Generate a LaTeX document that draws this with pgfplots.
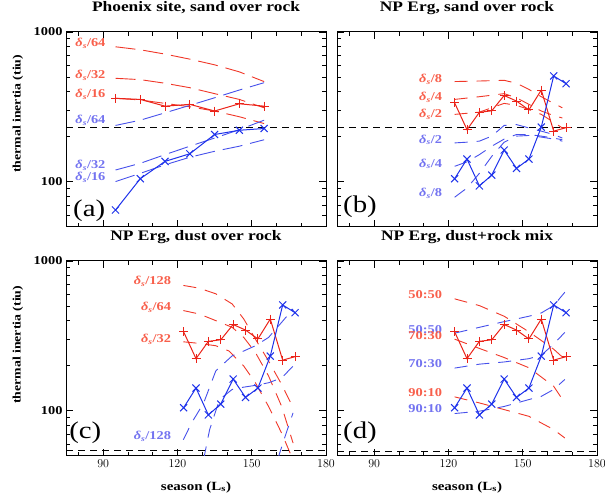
\documentclass[border=0pt]{standalone}
\usepackage{fontspec}
\setmainfont{Liberation Serif}[FakeStretch=1.2]
\usepackage{pgfplots}
\pgfplotsset{compat=1.18}
\definecolor{dred}{RGB}{235,35,25}
\definecolor{dblue}{RGB}{30,50,235}
\definecolor{mred}{RGB}{240,55,40}
\definecolor{mblue}{RGB}{70,80,235}
\definecolor{lred}{RGB}{248,95,75}
\definecolor{lblue}{RGB}{115,115,240}
\newcommand{\ds}[1]{{\itshape δ}\textsubscript{\itshape s}/#1}
\tikzset{
 lab/.style={font=\bfseries\fontsize{12}{14}\selectfont, anchor=east, inner sep=0pt},
 pl/.style={font=\fontsize{24}{26}\selectfont, anchor=base west, inner sep=0pt},
 mr/.style={mred, line width=0.9pt, dash pattern=on 13pt off 9pt},
 mb/.style={mblue, line width=0.9pt, dash pattern=on 13pt off 9pt},
 mra/.style={mred, line width=0.9pt, dash pattern=on 20pt off 8pt},
 mba/.style={mblue, line width=0.9pt, dash pattern=on 20pt off 8pt},
 hl/.style={black, line width=0.9pt, dash pattern=on 7pt off 5pt},
 dr/.style={dred, line width=1pt, mark=+, mark size=4.5pt, mark options={solid, line width=1pt}},
 db/.style={dblue, line width=1pt, mark=x, mark size=5pt, mark options={solid, line width=1pt}},
}
\pgfplotsset{
 panel/.style={
  width=260pt, height=195pt, scale only axis,
  xmin=75, xmax=180, ymin=50, ymax=1000,
  xtick={90,120,150,180}, minor xtick={80,100,110,130,140,160,170},
  ytick={100,1000},
  minor ytick={60,70,80,90,200,300,400,500,600,700,800,900},
  tick align=inside, major tick length=7pt, minor tick length=4pt,
  axis line style={line width=1pt},
  every tick/.append style={black, line width=0.8pt},
  ticklabel style={font=\bfseries\fontsize{12}{14}\selectfont},
  title style={font=\bfseries\fontsize{14.5}{16}\selectfont, at={(0.5,1)}, anchor=base, yshift=14pt},
  xlabel style={font=\bfseries\fontsize{12.5}{14}\selectfont, at={(0.5,0)}, anchor=center, yshift=-31pt},
  ylabel style={font=\bfseries\fontsize{11.5}{13}\selectfont, anchor=center},
 },
}
\begin{document}
\begin{tikzpicture}
\useasboundingbox (0pt,0pt) rectangle (605pt,498pt);
% ---------- (a)
\begin{axis}[ymode=log, panel, at={(66pt,271pt)}, anchor=south west,
  yticklabels={100,1000},
  title={Phoenix site, sand over rock}, xticklabels={},
  ylabel={thermal inertia (tiu)},
  ylabel style={at={(-0.185,0.58)}}]
\addplot[mra] coordinates {(95,797) (105,761) (115,712) (125,659) (135,604) (145,542) (155,467)};
\addplot[mra] coordinates {(95,491) (105,481) (115,455) (125,425) (135,388) (145,355) (155,312)};
\addplot[mra] coordinates {(95,361) (105,352) (115,334) (125,317) (135,297) (145,272) (155,245)};
\addplot[mba] coordinates {(95,238) (105,258) (115,289) (125,324) (135,364) (145,410) (155,459)};
\addplot[mba] coordinates {(95,120) (105,133) (115,152) (125,173) (135,196) (145,223) (155,258)};
\addplot[mba] coordinates {(95,100.5) (105,114) (115,130) (125,146) (135,160) (145,173) (155,191)};
\addplot[hl] coordinates {(75,229) (180,229)};
\addplot[dr] coordinates {(95,361) (105,355) (115,320) (125,329) (135,297) (145,332) (155,320)};
\addplot[db] coordinates {(95,64.9) (105,105) (115,137) (125,154) (135,207) (145,221) (155,227)};
\node[lab, lred] at (axis cs:91,839) {\ds{64}};
\node[lab, lred] at (axis cs:91,515) {\ds{32}};
\node[lab, lred] at (axis cs:91,384) {\ds{16}};
\node[lab, lblue] at (axis cs:91,258) {\ds{64}};
\node[lab, lblue] at (axis cs:91,129) {\ds{32}};
\node[lab, lblue] at (axis cs:91,107) {\ds{16}};
\node[pl] at (rel axis cs:0.027,0.052) {(a)};
\end{axis}
% ---------- (b)
\begin{axis}[ymode=log, panel, at={(337pt,271pt)}, anchor=south west,
  title={NP Erg, sand over rock}, xticklabels={}, yticklabels={}]
\addplot[mr] coordinates {(122.5,467) (132.5,471) (142.5,476) (147.5,455) (152.5,414) (157.5,370) (162.5,334) (166,312)};
\addplot[mr] coordinates {(122.5,355) (132.5,370) (142.5,388) (147.5,364) (152.5,329) (157.5,297) (162.5,277) (166,267)};
\addplot[mr] coordinates {(122.5,282) (132.5,292) (142.5,334) (147.5,324) (152.5,304) (157.5,282) (162.5,250) (166,229)};
\addplot[mb] coordinates {(122.5,182) (127.5,184) (132.5,187) (137.5,202) (142.5,238) (147.5,241) (152.5,229) (157.5,218) (162.5,207) (166,196)};
\addplot[mb] coordinates {(122.5,127) (127.5,136) (132.5,152) (137.5,173) (142.5,193) (147.5,207) (152.5,207) (157.5,202) (162.5,196) (166,191)};
\addplot[mb] coordinates {(122.5,79) (127.5,91) (132.5,114) (137.5,148) (142.5,184) (147.5,202) (152.5,204) (157.5,199) (162.5,193) (166,187)};
\addplot[hl] coordinates {(75,229) (180,229)};
\addplot[dr] coordinates {(122.5,337) (127.5,223) (132.5,291) (137.5,298) (142.5,377) (147.5,346) (152.5,302) (157.5,410) (162.5,218) (167.5,230)};
\addplot[db] coordinates {(122.5,105) (127.5,142) (132.5,94) (137.5,111) (142.5,163) (147.5,123) (152.5,142) (157.5,232) (162.5,509) (167.5,452)};
\node[lab, lred] at (axis cs:117.5,484) {\ds{8}};
\node[lab, lred] at (axis cs:117.5,368) {\ds{4}};
\node[lab, lred] at (axis cs:117.5,282) {\ds{2}};
\node[lab, lblue] at (axis cs:117.5,191) {\ds{2}};
\node[lab, lblue] at (axis cs:117.5,132) {\ds{4}};
\node[lab, lblue] at (axis cs:117.5,84) {\ds{8}};
\node[pl] at (rel axis cs:0.023,0.072) {(b)};
\end{axis}
% ---------- (c)
\begin{axis}[ymode=log, panel, at={(66pt,42pt)}, anchor=south west,
  yticklabels={100,1000},
  title={NP Erg, dust over rock},
  xlabel={season (L\textsubscript{s})},
  ylabel={thermal inertia (tiu)},
  ylabel style={at={(-0.185,0.57)}}]
\addplot[mr] coordinates {(122.4,687) (128.8,659) (135.5,604) (142.1,517) (146.8,410) (151.5,301) (156.8,215) (162.1,150) (166.7,105)};
\addplot[mr] coordinates {(122.4,467) (128.8,443) (135.5,400) (142.1,361) (146.8,309) (151.5,245) (156.8,171) (162.1,107) (166.7,61)};
\addplot[mr] coordinates {(122.4,289) (128.8,282) (135.5,272) (140.8,251) (146.8,199) (151.5,154) (156.8,107) (162.1,71) (166.7,47)};
\addplot[mb] coordinates {(122.4,64.2) (125.7,83) (130.6,113) (135.5,185) (142.1,233) (146.8,251) (151.5,272) (156.8,309) (162.1,390) (166.7,479)};
\addplot[mb] coordinates {(130.6,47.6) (133,75) (137,119) (142.1,139) (146.8,144) (151.5,148) (156.8,154) (162.1,166) (166.7,199)};
\addplot[mb] coordinates {(160.5,47.6) (163,64) (166.7,97)};
\addplot[hl] coordinates {(75,54.5) (180,54.5)};
\addplot[dr] coordinates {(122.5,337) (127.5,223) (132.5,291) (137.5,298) (142.5,377) (147.5,346) (152.5,302) (157.5,410) (162.5,218) (167.5,230)};
\addplot[db] coordinates {(122.5,105) (127.5,142) (132.5,94) (137.5,111) (142.5,163) (147.5,123) (152.5,142) (157.5,232) (162.5,509) (167.5,452)};
\node[lab, lred] at (axis cs:117.5,730) {\ds{128}};
\node[lab, lred] at (axis cs:117.5,491) {\ds{64}};
\node[lab, lred] at (axis cs:117.5,301) {\ds{32}};
\node[lab, lblue] at (axis cs:117.5,68) {\ds{128}};
\node[pl] at (rel axis cs:0.012,0.092) {(c)};
\end{axis}
% ---------- (d)
\begin{axis}[ymode=log, panel, at={(337pt,42pt)}, anchor=south west,
  title={NP Erg, dust+rock mix},
  xlabel={season (L\textsubscript{s})}, yticklabels={}]
\addplot[mr] coordinates {(122.5,559) (132.5,504) (142.5,428) (152.5,337) (162.5,258) (167,221)};
\addplot[mr] coordinates {(122.5,301) (132.5,261) (142.5,227) (152.5,194) (162.5,146) (167,113)};
\addplot[mr] coordinates {(122.5,124) (132.5,113) (142.5,102) (152.5,92) (162.5,75) (167,66)};
\addplot[mb] coordinates {(122.5,330) (132.5,361) (142.5,394) (152.5,428) (157.5,450) (162.5,504) (167,619)};
\addplot[mb] coordinates {(122.5,193) (132.5,205) (142.5,212) (152.5,223) (157.5,235) (162.5,279) (167,334)};
\addplot[mb] coordinates {(122.5,96) (132.5,99.5) (142.5,107) (152.5,119) (157.5,125) (162.5,139) (167,162)};
\addplot[hl] coordinates {(75,54) (180,54)};
\addplot[dr] coordinates {(122.5,337) (127.5,223) (132.5,291) (137.5,298) (142.5,377) (147.5,346) (152.5,302) (157.5,410) (162.5,218) (167.5,230)};
\addplot[db] coordinates {(122.5,105) (127.5,142) (132.5,94) (137.5,111) (142.5,163) (147.5,123) (152.5,142) (157.5,232) (162.5,509) (167.5,452)};
\node[lab, lred] at (axis cs:117.5,597) {50:50};
\node[lab, lblue] at (axis cs:117.5,348) {50:50};
\node[lab, lred] at (axis cs:117.5,317) {70:30};
\node[lab, lblue] at (axis cs:117.5,208) {70:30};
\node[lab, lred] at (axis cs:117.5,132) {90:10};
\node[lab, lblue] at (axis cs:117.5,103) {90:10};
\node[pl] at (rel axis cs:0.023,0.092) {(d)};
\end{axis}
\end{tikzpicture}
\end{document}
